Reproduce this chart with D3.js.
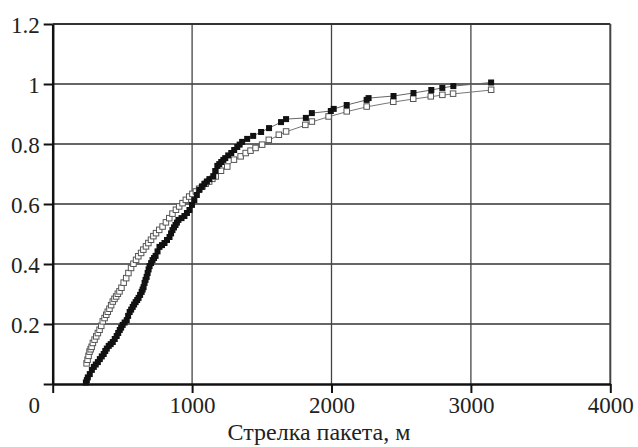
<!DOCTYPE html>
<html><head><meta charset="utf-8">
<script src="https://cdn.jsdelivr.net/npm/d3@7"></script>
<style>
html,body{margin:0;padding:0;background:#fff;}
</style></head>
<body><svg id="c" width="638" height="447"></svg>
<script>
// X ticks and labels
const xTickValues = [0, 1000, 2000, 3000, 4000];
const xTickLabels = ["0", "1000", "2000", "3000", "4000"];
// Y ticks and labels
const yTickValues = [0, 0.2, 0.4, 0.6, 0.8, 1, 1.2];
const yTickLabels = ["", "0.2", "0.4", "0.6", "0.8", "1", "1.2"];
const xTitle = "Стрелка пакета, м";

// Series 1: filled squares (x in m, cumulative fraction)
const filledX = [238,245,252,266,281,295,309,324,338,352,366,377,388,402,416,431,445,459,470,481,491,502,516,531,541,552,563,574,584,595,606,616,627,638,645,652,659,666,674,681,688,695,706,716,727,738,752,766,784,802,820,838,849,859,870,881,891,902,924,945,963,981,999,1016,1034,1052,1070,1088,1106,1124,1152,1166,1181,1195,1209,1224,1238,1259,1281,1302,1324,1341,1359,1395,1438,1495,1552,1638,1674,1816,1859,1995,2016,2109,2252,2266,2445,2588,2716,2795,2874,3145];
const filledY = [0.005,0.013,0.022,0.033,0.047,0.057,0.065,0.073,0.083,0.092,0.1,0.11,0.118,0.127,0.133,0.14,0.15,0.16,0.17,0.18,0.188,0.197,0.205,0.213,0.227,0.24,0.248,0.257,0.265,0.273,0.28,0.287,0.297,0.307,0.315,0.323,0.337,0.347,0.357,0.37,0.382,0.393,0.403,0.413,0.42,0.427,0.442,0.457,0.463,0.47,0.48,0.49,0.502,0.513,0.522,0.53,0.538,0.547,0.553,0.56,0.57,0.58,0.597,0.613,0.63,0.647,0.657,0.667,0.675,0.683,0.693,0.71,0.727,0.733,0.74,0.747,0.753,0.762,0.77,0.78,0.79,0.798,0.807,0.817,0.827,0.84,0.853,0.873,0.883,0.887,0.903,0.91,0.917,0.93,0.947,0.953,0.96,0.97,0.98,0.987,0.993,1.005];

// Series 2: open squares
const openX = [245,252,259,266,274,281,290,302,314,326,338,350,361,374,386,397,409,421,433,445,457,469,481,495,511,529,545,564,581,600,616,636,652,671,688,707,724,743,766,790,814,838,861,886,909,933,957,981,1004,1029,1052,1076,1100,1124,1147,1171,1209,1254,1302,1350,1386,1421,1457,1504,1552,1624,1676,1814,1861,1981,2111,2254,2445,2588,2714,2797,2874,3147];
const openY = [0.068,0.08,0.093,0.107,0.115,0.123,0.136,0.147,0.158,0.169,0.18,0.193,0.208,0.219,0.23,0.24,0.25,0.262,0.274,0.283,0.291,0.3,0.308,0.32,0.337,0.352,0.369,0.386,0.4,0.413,0.425,0.436,0.447,0.458,0.469,0.48,0.492,0.502,0.513,0.524,0.538,0.552,0.567,0.58,0.591,0.602,0.613,0.624,0.633,0.641,0.65,0.658,0.667,0.674,0.683,0.691,0.71,0.724,0.747,0.758,0.769,0.777,0.786,0.797,0.813,0.83,0.841,0.863,0.874,0.891,0.908,0.924,0.94,0.95,0.958,0.963,0.967,0.98];

const FONT = "'Liberation Serif', 'Times New Roman', Times, serif";
const svg = d3.select("#c");
const L = 52.7, R = 610.3, T = 24, B = 384;
const x = d3.scaleLinear().domain([0, 4000]).range([L, R]);
const y = d3.scaleLinear().domain([0, 1.2]).range([B, T]);

// gridlines
const g = svg.append("g");
g.selectAll("line.h").data(yTickValues.filter(v => v > 0 && v < 1.2)).join("line")
  .attr("x1", L).attr("x2", R).attr("y1", d => y(d)).attr("y2", d => y(d))
  .attr("stroke", "#333").attr("stroke-width", 1.3);
g.selectAll("line.v").data(xTickValues.filter(v => v > 0 && v < 4000)).join("line")
  .attr("y1", T).attr("y2", B).attr("x1", d => x(d)).attr("x2", d => x(d))
  .attr("stroke", "#444").attr("stroke-width", 1.3);

// frame top/right
svg.append("line").attr("x1", L).attr("x2", R).attr("y1", T).attr("y2", T).attr("stroke", "#333").attr("stroke-width", 2);
svg.append("line").attr("x1", R).attr("x2", R).attr("y1", T).attr("y2", B).attr("stroke", "#444").attr("stroke-width", 2);

// axes
const xa = svg.append("g").attr("transform", `translate(0,${B})`)
  .call(d3.axisBottom(x).tickValues(xTickValues).tickSize(9).tickSizeOuter(0)
    .tickFormat((d, i) => xTickLabels[i]));
xa.attr("font-family", null).attr("font-size", null);
xa.select(".domain").attr("stroke", "#111").attr("stroke-width", 2.5);
xa.selectAll(".tick line").attr("stroke", "#111").attr("stroke-width", 2);
xa.selectAll(".tick text").style("font-family", FONT).style("font-size", "23px")
  .attr("y", 13).attr("dy", "0.71em")
  .attr("dx", (d) => d === 0 ? -19 : 0).style("fill", "#222");

const ya = svg.append("g").attr("transform", `translate(${L},0)`)
  .call(d3.axisLeft(y).tickValues(yTickValues).tickSize(9).tickSizeOuter(0)
    .tickFormat((d, i) => yTickLabels[i]));
ya.attr("font-family", null).attr("font-size", null);
ya.select(".domain").attr("stroke", "#111").attr("stroke-width", 2.5);
ya.selectAll(".tick text").style("font-family", FONT).style("font-size", "23px")
  .attr("x", -13).attr("dy", "0.36em").style("fill", "#222");
ya.selectAll(".tick line").attr("stroke", "#111").attr("stroke-width", 2);

// axis title
svg.append("text").attr("x", 319).attr("y", 440).attr("text-anchor", "middle")
  .style("font-family", FONT).style("font-size", "24px").style("fill", "#222").text(xTitle);

// series
const line = d3.line().x(d => x(d[0])).y(d => y(d[1]));
const filled = filledX.map((v, i) => [v, filledY[i]]);
const open = openX.map((v, i) => [v, openY[i]]);

svg.append("path").attr("d", line(open)).attr("fill", "none").attr("stroke", "#777").attr("stroke-width", 1);
svg.append("path").attr("d", line(filled)).attr("fill", "none").attr("stroke", "#666").attr("stroke-width", 1);

const s = 6;
svg.append("g").selectAll("rect").data(open).join("rect")
  .attr("x", d => x(d[0]) - s / 2).attr("y", d => y(d[1]) - s / 2)
  .attr("width", s - 0.5).attr("height", s - 0.5)
  .attr("fill", "#fff").attr("stroke", "#555").attr("stroke-width", 1);
svg.append("g").selectAll("rect").data(filled).join("rect")
  .attr("x", d => x(d[0]) - s / 2).attr("y", d => y(d[1]) - s / 2)
  .attr("width", s).attr("height", s)
  .attr("fill", "#111");
</script></body></html>
